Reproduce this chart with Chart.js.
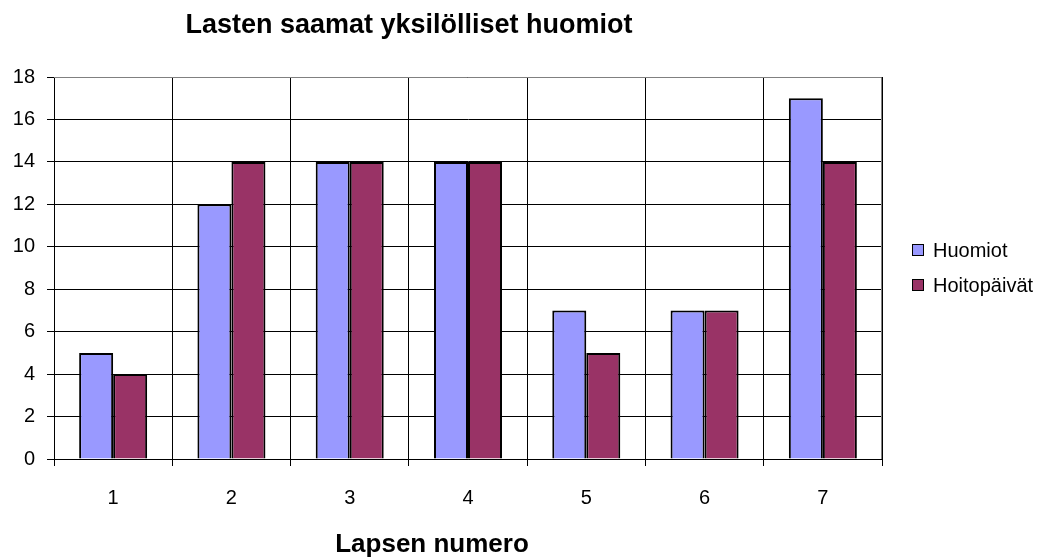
<!DOCTYPE html>
<html>
<head>
<meta charset="utf-8">
<script src="https://cdn.jsdelivr.net/npm/chart.js@4.4.1/dist/chart.umd.min.js"></script>
<style>
html,body{margin:0;padding:0;background:#fff;}
#wrap{width:1054px;height:559px;position:relative;}
</style>
</head>
<body>
<div id="wrap"><canvas id="c" width="1054" height="559"></canvas></div>
<script>
const categories = ['1', '2', '3', '4', '5', '6', '7'];
const huomiot = [5, 12, 14, 14, 7, 7, 17];
const hoitopaivat = [4, 14, 14, 14, 5, 7, 14];
const seriesNames = ['Huomiot', 'Hoitopäivät'];
const seriesColors = ['#9999FF', '#993366'];
const chartTitle = 'Lasten saamat yksilölliset huomiot';
const xTitle = 'Lapsen numero';

const FONT = "'Liberation Sans', Arial, sans-serif";

const textPlugin = {
  id: 'texts',
  afterDraw(chart) {
    const ctx = chart.ctx;
    const area = chart.chartArea;
    ctx.save();
    ctx.fillStyle = '#000';
    ctx.textAlign = 'center';
    ctx.textBaseline = 'alphabetic';
    ctx.font = 'bold 27px ' + FONT;
    ctx.fillText(chartTitle, 409, 33);
    ctx.font = 'bold 26px ' + FONT;
    ctx.fillText(xTitle, 432, 552);
    // plot border (gray top/right)
    ctx.strokeStyle = '#808080';
    ctx.lineWidth = 1;
    ctx.beginPath();
    ctx.moveTo(area.left, area.top + 0.5);
    ctx.lineTo(area.right - 0.5, area.top + 0.5);
    ctx.lineTo(area.right - 0.5, area.bottom);
    ctx.stroke();
    // legend
    ctx.textAlign = 'left';
    ctx.textBaseline = 'middle';
    ctx.font = '20px ' + FONT;
    const ly = [250, 285];
    seriesNames.forEach((n, i) => {
      ctx.fillStyle = seriesColors[i];
      ctx.fillRect(912, ly[i] - 6, 12, 12);
      ctx.strokeStyle = '#000';
      ctx.lineWidth = 1;
      ctx.strokeRect(912.5, ly[i] - 5.5, 11, 11);
      ctx.fillStyle = '#000';
      ctx.fillText(n, 933, ly[i] + 1);
    });
    ctx.restore();
  }
};

new Chart(document.getElementById('c'), {
  type: 'bar',
  data: {
    labels: categories,
    datasets: [
      { label: seriesNames[0], data: huomiot, backgroundColor: seriesColors[0], borderColor: '#000', borderWidth: 2 },
      { label: seriesNames[1], data: hoitopaivat, backgroundColor: seriesColors[1], borderColor: '#000', borderWidth: 2 }
    ]
  },
  options: {
    responsive: false,
    animation: false,
    events: [],
    layout: { padding: { left: 0, top: 77, right: 172, bottom: 0 } },
    datasets: { bar: { categoryPercentage: 0.575, barPercentage: 1.0 } },
    plugins: { legend: { display: false }, title: { display: false }, tooltip: { enabled: false } },
    scales: {
      x: {
        afterFit(s) { s.height = 100; },
        grid: { color: '#000', lineWidth: 1, offset: true, tickLength: 7, drawOnChartArea: true },
        border: { color: '#000', width: 1 },
        ticks: { color: '#000', font: { family: FONT, size: 20 }, padding: 20 }
      },
      y: {
        min: 0, max: 18,
        afterFit(s) { s.width = 54; },
        grid: { color: '#000', lineWidth: 1, tickLength: 7 },
        border: { color: '#000', width: 1 },
        ticks: { color: '#000', stepSize: 2, font: { family: FONT, size: 20 }, padding: 12 }
      }
    }
  },
  plugins: [textPlugin]
});
</script>
</body>
</html>
